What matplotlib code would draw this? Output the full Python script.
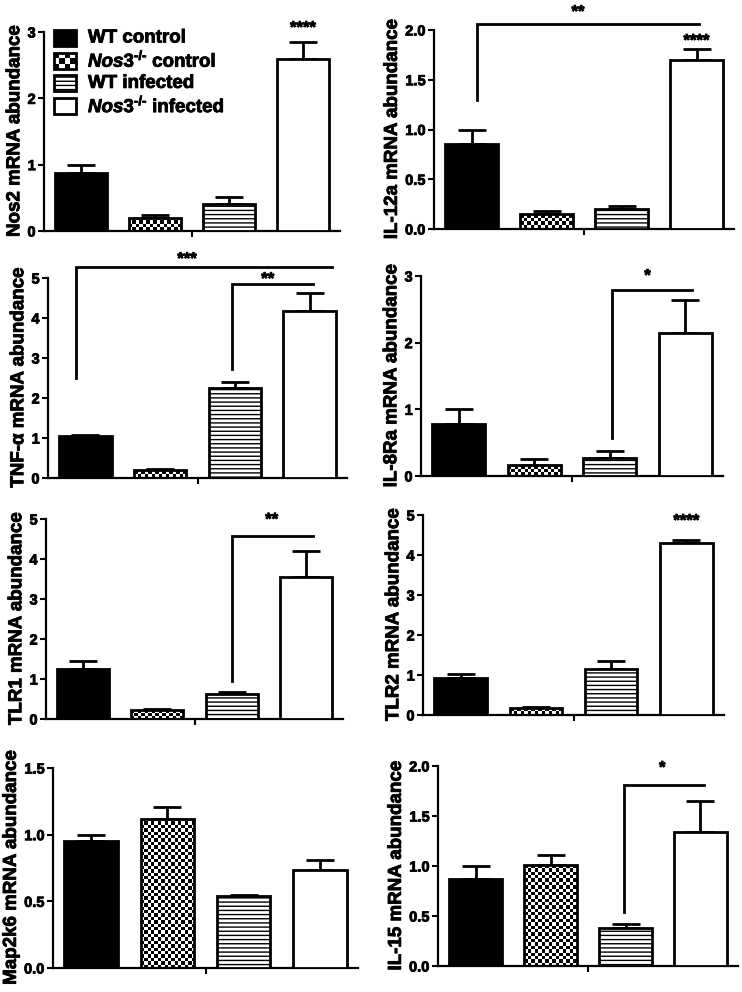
import numpy as np
import matplotlib
matplotlib.use('Agg')
import matplotlib.pyplot as plt
import matplotlib.patheffects as pe
from matplotlib.patches import Rectangle
from matplotlib.transforms import offset_copy

plt.rcParams['font.family'] = ['Liberation Sans', 'DejaVu Sans']
plt.rcParams['font.weight'] = 'bold'
plt.rcParams['mathtext.fontset'] = 'custom'
plt.rcParams['mathtext.rm'] = 'Liberation Sans:bold'
plt.rcParams['mathtext.it'] = 'Liberation Sans:italic:bold'
plt.rcParams['hatch.linewidth'] = 1.0

groups = ['WT control', r'$\mathit{Nos3}^{\mathit{\text{-/-}}}$ control',
          'WT infected', r'$\mathit{Nos3}^{\mathit{\text{-/-}}}$ infected']

# mean values and upper SEM
nos2 = [0.88, 0.20, 0.41, 2.59]
nos2_err = [0.12, 0.04, 0.10, 0.26]
il12a = [0.85, 0.15, 0.20, 1.70]
il12a_err = [0.15, 0.03, 0.03, 0.11]
tnfa = [1.05, 0.20, 2.25, 4.17]
tnfa_err = [0.03, 0.02, 0.15, 0.46]
il8ra = [0.78, 0.16, 0.27, 2.14]
il8ra_err = [0.22, 0.09, 0.10, 0.50]
tlr1 = [1.24, 0.22, 0.62, 3.55]
tlr1_err = [0.20, 0.02, 0.06, 0.65]
tlr2 = [0.93, 0.18, 1.15, 4.29]
tlr2_err = [0.09, 0.02, 0.20, 0.08]
map2k6 = [0.95, 1.12, 0.54, 0.735]
map2k6_err = [0.05, 0.09, 0.01, 0.075]
il15 = [0.87, 1.01, 0.38, 1.34]
il15_err = [0.13, 0.10, 0.04, 0.31]

W, H = 742, 992

# (ylabel, values, errors, y ticks, tick format, axes box in px (left, right, top, bottom),
#  single-bar stars, brackets (x_left, x_right, y_line, y_leg, text, text_x, text_y))
panels = [
    ('Nos2 mRNA abundance', nos2, nos2_err, [0, 1, 2, 3], '%d', (44, 340, 32, 231),
     [('****', 3, 3.12)], []),
    ('IL-12a mRNA abundance', il12a, il12a_err, [0, 0.5, 1.0, 1.5, 2.0], '%.1f', (434, 734, 30, 229),
     [('****', 3, 1.93)], [(0.07, 3.03, 2.06, 1.30, '**', 1.42, 2.22)]),
    ('TNF-α mRNA abundance', tnfa, tnfa_err, [0, 1, 2, 3, 4, 5], '%d', (48, 347, 278, 478),
     [], [(-0.125, 3.3, 5.27, 2.5, '***', 1.36, 5.57), (1.96, 3.05, 4.85, 2.72, '**', 2.44, 5.07)]),
    ('IL-8Ra mRNA abundance', il8ra, il8ra_err, [0, 1, 2, 3], '%d', (421, 723, 276, 476),
     [], [(2.03, 3.09, 2.79, 0.57, '*', 2.5, 3.06)]),
    ('TLR1 mRNA abundance', tlr1, tlr1_err, [0, 1, 2, 3, 4, 5], '%d', (46, 343, 519, 719),
     [], [(2.0, 3.1, 4.58, 0.95, '**', 2.54, 5.08)]),
    ('TLR2 mRNA abundance', tlr2, tlr2_err, [0, 1, 2, 3, 4, 5], '%d', (423, 724, 515, 715),
     [('****', 3, 4.95)], []),
    ('Map2k6 mRNA abundance', map2k6, map2k6_err, [0, 0.5, 1.0, 1.5], '%.1f', (53, 358, 768, 968),
     [], []),
    ('IL-15 mRNA abundance', il15, il15_err, [0, 0.5, 1.0, 1.5, 2.0], '%.1f', (438, 738, 766, 966),
     [], [(1.98, 3.05, 1.81, 0.54, '*', 2.49, 2.02)]),
]

fig = plt.figure(figsize=(W / 100, H / 100), dpi=100)
x = np.arange(4)
width = 0.7
faces = ['black', 'none', 'white', 'white']
hatches = ['', '', '----', '']
heavy = [pe.withStroke(linewidth=0.6, foreground='black')]


def checker(nx, ny):
    return (np.indices((ny, nx)).sum(axis=0) % 2).astype(float)


for label, vals, errs, ticks, fmt, box, stars, brackets in panels:
    l, r, t, b = box
    ax = fig.add_axes([l / W, 1 - b / H, (r - l) / W, (b - t) / H])
    ax.set_xlim(-0.5, 3.5)
    ax.set_ylim(0, ticks[-1])
    # star glyphs sit high in the text box, nudge them down a little
    star_tr = offset_copy(ax.transData, fig=fig, y=-4, units='dots')

    ax.errorbar(x, vals, yerr=[np.zeros(4), errs], fmt='none', ecolor='black',
                elinewidth=2, capsize=10, capthick=2, zorder=1)
    bars = ax.bar(x, vals, width, color=faces, edgecolor='black', linewidth=2, zorder=3)
    for bar, h in zip(bars, hatches):
        bar.set_hatch(h)

    # checkerboard fill for the Nos3-/- control bar
    cb = bars[1]
    x0, x1 = cb.get_x(), cb.get_x() + cb.get_width()
    p = ax.transData.transform([(x0, 0), (x1, cb.get_height())])
    nx = max(int(round((p[1, 0] - p[0, 0]) / 3.4)), 1)
    ny = max(int(round((p[1, 1] - p[0, 1]) / 3.4)), 1)
    im = ax.imshow(checker(nx, ny), cmap='gray', extent=(x0, x1, 0, cb.get_height()),
                   aspect='auto', interpolation='nearest', zorder=2.5)
    im.set_clip_path(cb)

    for txt, sx, sy in stars:
        ax.text(sx, sy, txt, ha='center', va='center', fontsize=12, clip_on=False,
                transform=star_tr, path_effects=heavy)
    for xl, xr, yl, yb, txt, tx, ty in brackets:
        ax.plot([xl, xl, xr], [yb, yl, yl], color='black', lw=2, clip_on=False,
                solid_joinstyle='miter')
        ax.text(tx, ty, txt, ha='center', va='center', fontsize=12, clip_on=False,
                transform=star_tr, path_effects=heavy)

    for s in ['top', 'right']:
        ax.spines[s].set_visible(False)
    for s in ['left', 'bottom']:
        ax.spines[s].set_linewidth(1.6)
    ax.set_xticks([1.5])
    ax.set_xticklabels([''])
    ax.set_yticks(ticks)
    ax.set_yticklabels([fmt % v for v in ticks])
    ax.tick_params(direction='out', length=4, width=1.5, labelsize=10.5, pad=2)
    for tl in ax.get_yticklabels():
        tl.set_path_effects(heavy)
    ax.set_ylabel(label, fontsize=13.5, fontweight='bold', labelpad=3, path_effects=heavy)

    if label.startswith('Nos2'):
        # legend drawn by hand so the checker swatch matches the bars
        fx0 = (54 - l) / (r - l)
        fw = 22 / (r - l)
        fh = 16 / (b - t)
        for i, g in enumerate(groups):
            cy = 1 - (38 + 22.7 * i - t) / (b - t)
            if i == 1:
                ax.imshow(checker(4, 3), cmap='gray', aspect='auto',
                          interpolation='nearest',
                          extent=(fx0, fx0 + fw, cy - fh / 2, cy + fh / 2),
                          transform=ax.transAxes, zorder=4, clip_on=False)
            ax.add_patch(Rectangle((fx0, cy - fh / 2), fw, fh, transform=ax.transAxes,
                                   facecolor=faces[i], edgecolor='black', lw=2,
                                   hatch=hatches[i], clip_on=False, zorder=5))
            ax.text((88 - l) / (r - l), cy, g, transform=ax.transAxes, fontsize=13.5,
                    va='center', ha='left', path_effects=heavy)

    ax.set_xlim(-0.5, 3.5)
    ax.set_ylim(0, ticks[-1])

fig.savefig('out.png', dpi=100)
